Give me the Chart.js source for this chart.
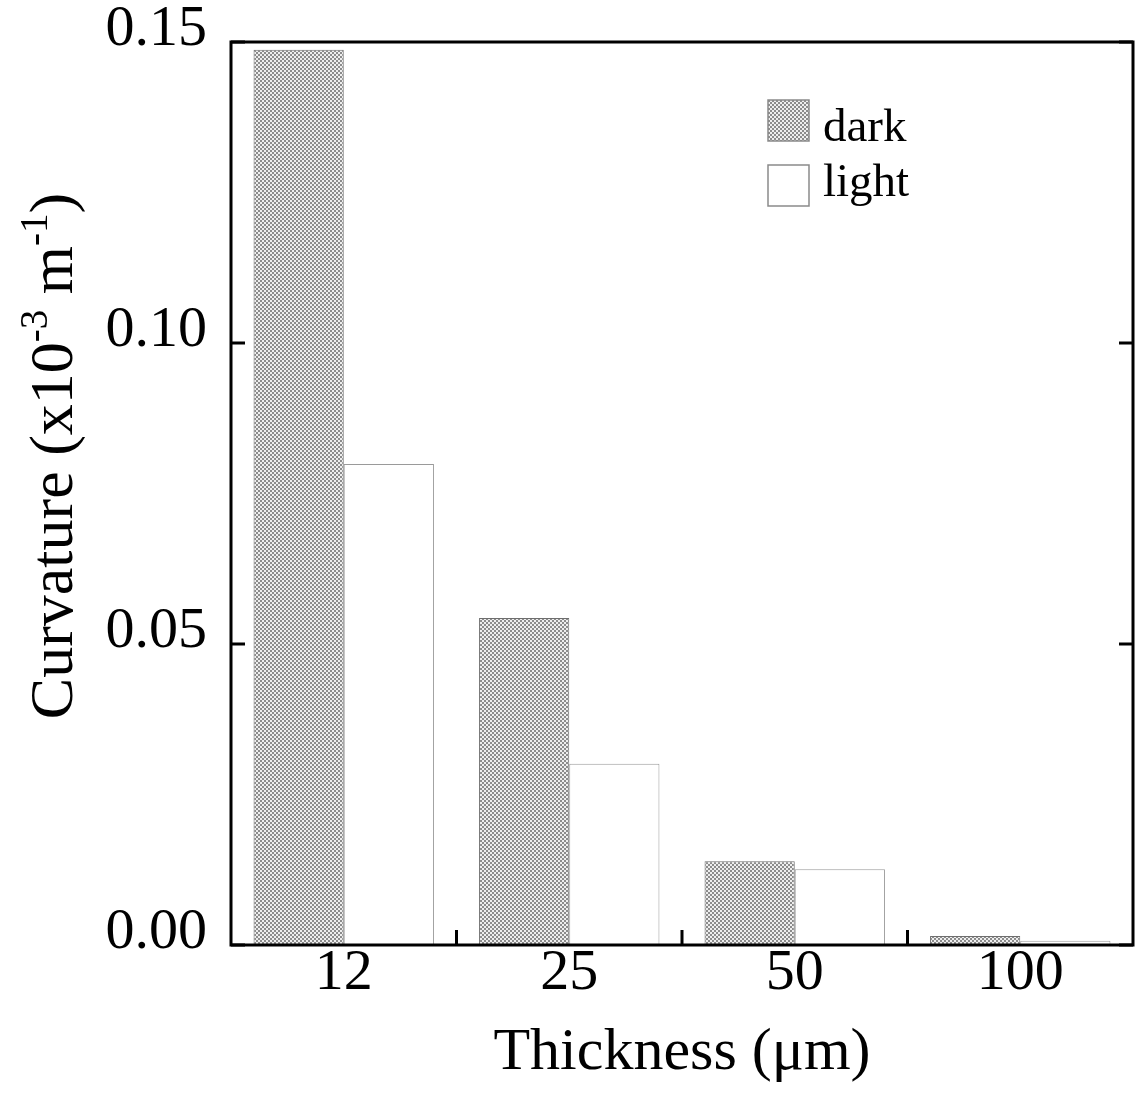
<!DOCTYPE html>
<html>
<head>
<meta charset="utf-8">
<script src="https://cdn.jsdelivr.net/npm/chart.js@4"></script>
<style>
  body { margin: 0; background: #fff; }
  #wrap { width: 1137px; height: 1093px; }
</style>
</head>
<body>
<div id="wrap"><canvas id="chart" width="1137" height="1093"></canvas></div>
<script>
// values
const categories = ['12', '25', '50', '100'];
const darkValues = [0.1487, 0.0543, 0.0139, 0.0015];
const lightValues = [0.0799, 0.0301, 0.0126, 0.0007];
const yTicks = [0, 0.05, 0.10, 0.15];
const seriesNames = ['dark', 'light'];

const FONT = "'Liberation Serif', 'Times New Roman', serif";
const canvas = document.getElementById('chart');
const ctx = canvas.getContext('2d');

// grey checker fill used for the "dark" bars
function makeHatch() {
  const c = document.createElement('canvas');
  c.width = 4; c.height = 4;
  const g = c.getContext('2d');
  g.fillStyle = '#eeeeee';
  g.fillRect(0, 0, 4, 4);
  g.fillStyle = '#8c8c8c';
  g.fillRect(0, 0, 2, 2);
  g.fillRect(2, 2, 2, 2);
  return ctx.createPattern(c, 'repeat');
}
const hatch = makeHatch();

// frame, inward ticks, y title with superscripts, legend
const decor = {
  id: 'decor',
  afterDraw(chart) {
    const { ctx, chartArea: a, scales } = chart;
    const y = scales.y, x = scales.x;
    ctx.save();
    ctx.strokeStyle = '#000';
    ctx.lineWidth = 3;
    ctx.strokeRect(a.left, a.top, a.right - a.left, a.bottom - a.top);

    ctx.beginPath();
    yTicks.forEach(v => {
      const py = y.getPixelForValue(v);
      ctx.moveTo(a.left, py); ctx.lineTo(a.left + 14, py);
      ctx.moveTo(a.right, py); ctx.lineTo(a.right - 14, py);
    });
    for (let i = 0; i < categories.length - 1; i++) {
      const px = (x.getPixelForValue(i) + x.getPixelForValue(i + 1)) / 2;
      ctx.moveTo(px, a.bottom); ctx.lineTo(px, a.bottom - 15);
    }
    ctx.stroke();

    // y axis title
    ctx.fillStyle = '#000';
    ctx.translate(72, 456);
    ctx.rotate(-Math.PI / 2);
    const parts = [
      ['Curvature (x10', 62, 0],
      ['-3', 39, -25],
      [' m', 62, 0],
      ['-1', 39, -25],
      [')', 62, 0]
    ];
    let total = 0;
    parts.forEach(p => { ctx.font = p[1] + 'px ' + FONT; total += ctx.measureText(p[0]).width; });
    let cx = -total / 2;
    ctx.textBaseline = 'alphabetic';
    parts.forEach(p => {
      ctx.font = p[1] + 'px ' + FONT;
      ctx.fillText(p[0], cx, p[2]);
      cx += ctx.measureText(p[0]).width;
    });
    ctx.setTransform(1, 0, 0, 1, 0, 0);

    // legend
    const boxTops = [100, 165];
    const baselines = [141, 196];
    chart.data.datasets.forEach((ds, i) => {
      ctx.fillStyle = ds.backgroundColor;
      ctx.fillRect(768, boxTops[i], 41, 41);
      ctx.strokeStyle = '#8a8a8a';
      ctx.lineWidth = 1.5;
      ctx.strokeRect(768, boxTops[i], 41, 41);
      ctx.fillStyle = '#000';
      ctx.font = '47px ' + FONT;
      ctx.textBaseline = 'alphabetic';
      ctx.fillText(ds.label, 823, baselines[i]);
    });
    ctx.restore();
  }
};

new Chart(canvas, {
  type: 'bar',
  data: {
    labels: categories,
    datasets: [
      { label: seriesNames[0], data: darkValues, backgroundColor: hatch,
        borderColor: '#6e6e6e', borderWidth: 1 },
      { label: seriesNames[1], data: lightValues, backgroundColor: '#ffffff',
        borderColor: '#9a9a9a', borderWidth: 1 }
    ]
  },
  options: {
    responsive: false,
    animation: false,
    layout: { padding: { top: 42, right: 4, left: 0, bottom: 0 } },
    datasets: { bar: { categoryPercentage: 0.8, barPercentage: 1.0 } },
    plugins: { legend: { display: false }, tooltip: { enabled: false } },
    scales: {
      x: {
        grid: { display: false, drawTicks: false },
        border: { display: false },
        ticks: { color: '#000', font: { family: FONT, size: 58 }, padding: -6 },
        title: {
          display: true, text: 'Thickness (μm)', color: '#000',
          font: { family: FONT, size: 60 }, padding: { top: 21 }
        },
        afterFit: s => { s.height = 148; s.paddingLeft = 0; s.paddingRight = 0; }
      },
      y: {
        min: 0, max: 0.15,
        grid: { display: false, drawTicks: false },
        border: { display: false },
        ticks: {
          stepSize: 0.05, color: '#000', padding: 24, labelOffset: -12,
          font: { family: FONT, size: 58 },
          callback: v => v.toFixed(2)
        },
        afterFit: s => { s.width = 231; s.paddingTop = 0; s.paddingBottom = 0; }
      }
    }
  },
  plugins: [decor]
});
</script>
</body>
</html>
